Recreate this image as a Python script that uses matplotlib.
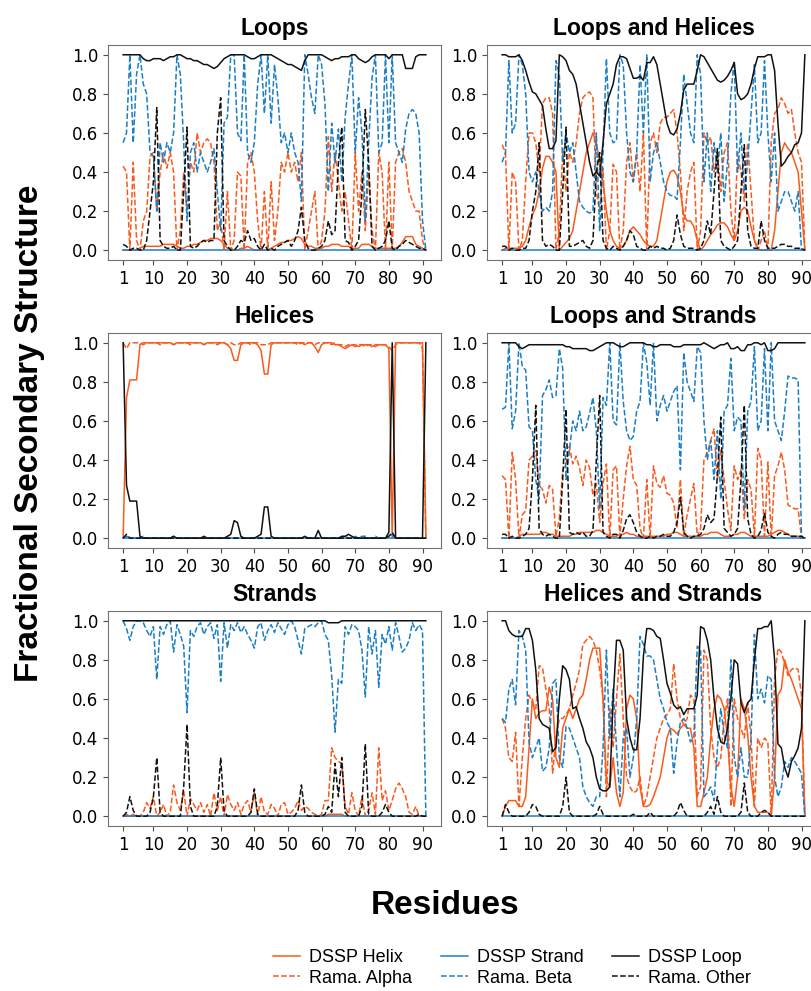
import matplotlib
matplotlib.use("Agg")
import matplotlib.pyplot as plt

# residue index 1..91
residues = list(range(1, 92))

ORANGE = '#fa5a1c'
BLUE = '#1b7fc6'
BLACK = '#111111'

# DSSP strand content is zero in every ensemble
dssp_strand = [
    0.00, 0.00, 0.00, 0.00, 0.00, 0.00, 0.00, 0.00, 0.00, 0.00,
    0.00, 0.00, 0.00, 0.00, 0.00, 0.00, 0.00, 0.00, 0.00, 0.00,
    0.00, 0.00, 0.00, 0.00, 0.00, 0.00, 0.00, 0.00, 0.00, 0.00,
    0.00, 0.00, 0.00, 0.00, 0.00, 0.00, 0.00, 0.00, 0.00, 0.00,
    0.00, 0.00, 0.00, 0.00, 0.00, 0.00, 0.00, 0.00, 0.00, 0.00,
    0.00, 0.00, 0.00, 0.00, 0.00, 0.00, 0.00, 0.00, 0.00, 0.00,
    0.00, 0.00, 0.00, 0.00, 0.00, 0.00, 0.00, 0.00, 0.00, 0.00,
    0.00, 0.00, 0.00, 0.00, 0.00, 0.00, 0.00, 0.00, 0.00, 0.00,
    0.00, 0.00, 0.00, 0.00, 0.00, 0.00, 0.00, 0.00, 0.00, 0.00,
    0.00]

# ---- Loops ----
loops_helix = [
    0.00, 0.00, 0.00, 0.00, 0.00, 0.01, 0.02, 0.02, 0.02, 0.02,
    0.02, 0.02, 0.03, 0.03, 0.03, 0.03, 0.02, 0.01, 0.01, 0.02,
    0.02, 0.03, 0.03, 0.04, 0.05, 0.05, 0.06, 0.06, 0.06, 0.05,
    0.03, 0.01, 0.01, 0.00, 0.00, 0.01, 0.01, 0.02, 0.01, 0.00,
    0.00, 0.00, 0.00, 0.00, 0.01, 0.02, 0.03, 0.04, 0.04, 0.05,
    0.05, 0.06, 0.07, 0.06, 0.03, 0.02, 0.02, 0.01, 0.01, 0.01,
    0.02, 0.02, 0.03, 0.03, 0.03, 0.02, 0.02, 0.02, 0.01, 0.01,
    0.01, 0.03, 0.03, 0.03, 0.02, 0.01, 0.01, 0.01, 0.01, 0.01,
    0.01, 0.01, 0.02, 0.04, 0.07, 0.07, 0.07, 0.03, 0.02, 0.01,
    0.00]
loops_loop = [
    1.00, 1.00, 1.00, 1.00, 1.00, 1.00, 0.98, 0.97, 0.97, 0.98,
    0.98, 0.98, 0.97, 0.98, 0.99, 0.99, 1.00, 1.00, 0.99, 0.98,
    0.98, 0.97, 0.97, 0.96, 0.95, 0.95, 0.94, 0.93, 0.94, 0.96,
    0.98, 0.99, 1.00, 1.00, 1.00, 1.00, 1.00, 0.99, 0.98, 0.98,
    0.99, 1.00, 1.00, 1.00, 1.00, 0.99, 0.98, 0.97, 0.96, 0.95,
    0.95, 0.94, 0.93, 0.92, 0.97, 1.00, 1.00, 1.00, 1.00, 1.00,
    0.99, 0.98, 0.97, 0.98, 0.98, 0.99, 0.99, 0.99, 1.00, 1.00,
    0.98, 0.97, 0.96, 0.97, 0.99, 1.00, 1.00, 1.00, 1.00, 0.98,
    1.00, 1.00, 1.00, 1.00, 0.93, 0.93, 0.93, 0.99, 1.00, 1.00,
    1.00]
loops_alpha = [
    0.43, 0.40, 0.00, 0.45, 0.05, 0.00, 0.15, 0.20, 0.48, 0.50,
    0.20, 0.40, 0.50, 0.42, 0.50, 0.40, 0.00, 0.10, 0.40, 0.20,
    0.45, 0.40, 0.60, 0.50, 0.55, 0.57, 0.55, 0.45, 0.10, 0.15,
    0.00, 0.30, 0.00, 0.05, 0.40, 0.38, 0.00, 0.45, 0.50, 0.40,
    0.15, 0.00, 0.30, 0.00, 0.35, 0.05, 0.20, 0.45, 0.40, 0.50,
    0.40, 0.45, 0.35, 0.50, 0.00, 0.10, 0.20, 0.30, 0.00, 0.05,
    0.20, 0.58, 0.30, 0.50, 0.35, 0.20, 0.30, 0.15, 0.00, 0.50,
    0.20, 0.40, 0.10, 0.40, 0.10, 0.00, 0.50, 0.40, 0.00, 0.45,
    0.00, 0.45, 0.50, 0.52, 0.45, 0.30, 0.25, 0.20, 0.20, 0.05,
    0.00]
loops_beta = [
    0.55, 0.60, 1.00, 0.55, 0.90, 1.00, 0.85, 0.80, 0.50, 0.48,
    0.20, 0.55, 0.45, 0.55, 0.50, 0.60, 1.00, 0.90, 0.55, 0.15,
    0.50, 0.55, 0.40, 0.50, 0.45, 0.40, 0.45, 0.52, 0.30, 0.10,
    0.65, 0.68, 1.00, 1.00, 0.60, 0.56, 1.00, 0.50, 0.45, 0.55,
    0.85, 1.00, 0.70, 1.00, 0.65, 0.95, 0.78, 0.55, 0.60, 0.50,
    0.60, 0.50, 0.45, 0.25, 1.00, 0.90, 0.78, 0.70, 1.00, 0.95,
    0.75, 0.30, 0.65, 0.45, 0.62, 0.35, 0.68, 0.85, 1.00, 0.50,
    0.78, 0.60, 0.15, 0.55, 0.88, 1.00, 0.50, 0.55, 1.00, 0.55,
    1.00, 0.55, 0.50, 0.45, 0.62, 0.70, 0.72, 0.70, 0.60, 0.15,
    0.00]
loops_other = [
    0.03, 0.02, 0.00, 0.01, 0.01, 0.00, 0.00, 0.05, 0.20, 0.35,
    0.73, 0.05, 0.02, 0.01, 0.01, 0.02, 0.00, 0.00, 0.30, 0.63,
    0.02, 0.01, 0.02, 0.04, 0.05, 0.04, 0.05, 0.05, 0.60, 0.78,
    0.05, 0.02, 0.00, 0.00, 0.02, 0.05, 0.04, 0.10, 0.05, 0.06,
    0.02, 0.00, 0.03, 0.00, 0.01, 0.00, 0.02, 0.03, 0.04, 0.05,
    0.02, 0.05, 0.10, 0.22, 0.05, 0.01, 0.00, 0.00, 0.01, 0.02,
    0.05, 0.15, 0.08, 0.10, 0.45, 0.63, 0.05, 0.04, 0.00, 0.02,
    0.05, 0.30, 0.72, 0.45, 0.02, 0.00, 0.01, 0.02, 0.05, 0.15,
    0.01, 0.00, 0.02, 0.03, 0.05, 0.04, 0.03, 0.02, 0.01, 0.01,
    0.00]

# ---- Loops and Helices ----
lh_helix = [
    0.00, 0.01, 0.01, 0.01, 0.01, 0.01, 0.02, 0.05, 0.12, 0.18,
    0.22, 0.30, 0.42, 0.48, 0.48, 0.45, 0.40, 0.00, 0.02, 0.04,
    0.06, 0.10, 0.20, 0.30, 0.40, 0.50, 0.55, 0.60, 0.55, 0.45,
    0.35, 0.20, 0.10, 0.05, 0.02, 0.01, 0.02, 0.05, 0.10, 0.12,
    0.10, 0.08, 0.05, 0.03, 0.02, 0.02, 0.05, 0.15, 0.25, 0.35,
    0.40, 0.41, 0.38, 0.30, 0.18, 0.15, 0.15, 0.12, 0.05, 0.00,
    0.02, 0.05, 0.08, 0.10, 0.13, 0.14, 0.14, 0.12, 0.08, 0.05,
    0.10, 0.20, 0.22, 0.20, 0.12, 0.05, 0.01, 0.00, 0.00, 0.00,
    0.00, 0.10, 0.30, 0.50, 0.55, 0.52, 0.50, 0.45, 0.40, 0.20,
    0.00]
lh_loop = [
    1.00, 1.00, 0.99, 0.99, 0.99, 1.00, 0.97, 0.92, 0.86, 0.81,
    0.80, 0.77, 0.74, 0.62, 0.52, 0.52, 0.56, 1.00, 0.99, 0.97,
    0.92, 0.90, 0.85, 0.75, 0.65, 0.55, 0.45, 0.38, 0.40, 0.38,
    0.55, 0.75, 0.80, 0.85, 0.95, 0.99, 0.99, 0.98, 0.93, 0.88,
    0.88, 0.89, 0.87, 0.96, 0.96, 0.99, 0.95, 0.85, 0.75, 0.65,
    0.60, 0.59, 0.62, 0.70, 0.82, 0.85, 0.85, 0.85, 0.92, 1.00,
    0.99, 0.96, 0.93, 0.90, 0.87, 0.86, 0.87, 0.89, 0.92, 0.96,
    0.80, 0.77, 0.78, 0.80, 0.85, 0.93, 0.99, 0.99, 0.99, 1.00,
    1.00, 0.92, 0.65, 0.43, 0.45, 0.48, 0.50, 0.54, 0.55, 0.60,
    1.00]
lh_alpha = [
    0.54, 0.50, 0.00, 0.40, 0.35, 0.00, 0.05, 0.35, 0.60, 0.60,
    0.55, 0.40, 0.75, 0.78, 0.78, 0.70, 0.00, 0.10, 0.50, 0.30,
    0.50, 0.45, 0.55, 0.70, 0.78, 0.80, 0.81, 0.78, 0.30, 0.20,
    0.42, 0.00, 0.10, 0.44, 0.40, 0.00, 0.10, 0.45, 0.55, 0.35,
    0.50, 0.30, 0.60, 0.00, 0.55, 0.60, 0.50, 0.65, 0.68, 0.68,
    0.70, 0.72, 0.60, 0.40, 0.10, 0.30, 0.40, 0.45, 0.00, 0.10,
    0.60, 0.55, 0.58, 0.40, 0.50, 0.30, 0.50, 0.55, 0.20, 0.05,
    0.50, 0.40, 0.25, 0.55, 0.30, 0.05, 0.00, 0.05, 0.10, 0.00,
    0.55, 0.70, 0.72, 0.78, 0.75, 0.70, 0.72, 0.60, 0.50, 0.45,
    0.00]
lh_beta = [
    0.45, 0.50, 0.97, 0.60, 0.65, 1.00, 0.95, 0.80, 0.40, 0.35,
    0.40, 0.30, 0.20, 0.22, 0.20, 0.30, 0.97, 0.90, 0.45, 0.60,
    0.50, 0.55, 0.40, 0.25, 0.22, 0.20, 0.19, 0.20, 0.60, 0.10,
    0.50, 0.98, 0.60, 0.55, 0.56, 1.00, 0.95, 0.60, 0.40, 0.35,
    0.50, 0.95, 0.60, 1.00, 0.35, 0.50, 0.55, 0.45, 0.35, 0.30,
    0.28, 0.28, 0.26, 0.55, 0.90, 0.75, 0.60, 0.55, 1.00, 0.90,
    0.35, 0.60, 0.30, 0.55, 0.40, 0.60, 0.25, 0.45, 0.80, 0.97,
    0.40, 0.60, 0.30, 0.45, 0.70, 0.95, 0.55, 0.60, 0.97, 0.60,
    0.35, 0.60, 0.20, 0.25, 0.30, 0.30, 0.25, 0.20, 0.30, 0.00,
    0.00]
lh_other = [
    0.02, 0.02, 0.00, 0.01, 0.00, 0.00, 0.01, 0.01, 0.05, 0.20,
    0.30, 0.55, 0.05, 0.02, 0.03, 0.02, 0.00, 0.00, 0.30, 0.63,
    0.02, 0.02, 0.03, 0.04, 0.05, 0.02, 0.01, 0.05, 0.40, 0.50,
    0.05, 0.01, 0.00, 0.02, 0.01, 0.00, 0.02, 0.05, 0.10, 0.08,
    0.02, 0.01, 0.00, 0.00, 0.02, 0.01, 0.02, 0.01, 0.01, 0.00,
    0.01, 0.05, 0.18, 0.08, 0.02, 0.01, 0.01, 0.01, 0.00, 0.01,
    0.05, 0.15, 0.08, 0.30, 0.52, 0.05, 0.02, 0.01, 0.00, 0.02,
    0.05, 0.30, 0.54, 0.10, 0.02, 0.01, 0.01, 0.15, 0.05, 0.01,
    0.01, 0.01, 0.02, 0.03, 0.03, 0.02, 0.02, 0.01, 0.01, 0.01,
    0.00]

# ---- Helices ----
hel_helix = [
    0.00, 0.72, 0.81, 0.81, 0.81, 0.99, 1.00, 1.00, 1.00, 1.00,
    1.00, 1.00, 1.00, 1.00, 1.00, 0.99, 1.00, 1.00, 1.00, 1.00,
    1.00, 1.00, 1.00, 1.00, 0.99, 1.00, 1.00, 1.00, 1.00, 1.00,
    1.00, 0.99, 0.97, 0.91, 0.91, 0.99, 1.00, 1.00, 1.00, 1.00,
    0.99, 0.96, 0.84, 0.84, 0.99, 1.00, 1.00, 1.00, 1.00, 1.00,
    1.00, 1.00, 1.00, 1.00, 0.99, 1.00, 1.00, 0.98, 0.95, 0.99,
    1.00, 1.00, 1.00, 0.99, 0.99, 0.98, 0.97, 0.98, 0.99, 0.99,
    0.98, 0.99, 0.99, 0.99, 0.98, 0.99, 0.99, 0.99, 0.99, 0.97,
    0.00, 1.00, 1.00, 1.00, 1.00, 1.00, 1.00, 1.00, 1.00, 1.00,
    0.00]
hel_loop = [
    1.00, 0.27, 0.19, 0.19, 0.19, 0.01, 0.00, 0.00, 0.00, 0.00,
    0.00, 0.00, 0.00, 0.00, 0.00, 0.01, 0.00, 0.00, 0.00, 0.00,
    0.00, 0.00, 0.00, 0.00, 0.01, 0.00, 0.00, 0.00, 0.00, 0.00,
    0.00, 0.01, 0.02, 0.09, 0.08, 0.01, 0.00, 0.00, 0.00, 0.00,
    0.01, 0.02, 0.16, 0.16, 0.01, 0.00, 0.00, 0.00, 0.00, 0.00,
    0.00, 0.00, 0.00, 0.00, 0.01, 0.00, 0.00, 0.00, 0.04, 0.00,
    0.00, 0.00, 0.00, 0.00, 0.00, 0.01, 0.01, 0.02, 0.01, 0.00,
    0.00, 0.00, 0.00, 0.00, 0.00, 0.00, 0.00, 0.00, 0.00, 0.03,
    1.00, 0.00, 0.00, 0.00, 0.00, 0.00, 0.00, 0.00, 0.00, 0.00,
    1.00]
hel_alpha = [
    1.00, 0.97, 1.00, 1.00, 1.00, 1.00, 0.99, 1.00, 1.00, 1.00,
    1.00, 0.99, 1.00, 1.00, 1.00, 0.99, 1.00, 1.00, 1.00, 1.00,
    0.99, 1.00, 1.00, 1.00, 0.99, 1.00, 1.00, 1.00, 0.99, 1.00,
    1.00, 0.99, 1.00, 0.99, 0.99, 1.00, 1.00, 1.00, 0.99, 1.00,
    1.00, 0.99, 0.99, 0.99, 1.00, 1.00, 1.00, 1.00, 1.00, 1.00,
    1.00, 1.00, 0.99, 1.00, 1.00, 1.00, 1.00, 0.99, 1.00, 1.00,
    1.00, 1.00, 0.99, 1.00, 0.99, 0.99, 0.98, 0.99, 0.99, 0.98,
    0.99, 0.99, 0.98, 0.99, 0.99, 0.98, 0.99, 0.99, 0.99, 0.98,
    0.96, 0.99, 1.00, 1.00, 1.00, 1.00, 1.00, 1.00, 1.00, 0.97,
    0.00]
hel_beta = [
    0.00, 0.01, 0.00, 0.00, 0.00, 0.00, 0.01, 0.00, 0.00, 0.00,
    0.00, 0.00, 0.00, 0.00, 0.00, 0.01, 0.00, 0.00, 0.00, 0.00,
    0.00, 0.00, 0.00, 0.00, 0.00, 0.00, 0.00, 0.00, 0.00, 0.00,
    0.00, 0.00, 0.00, 0.00, 0.00, 0.00, 0.00, 0.00, 0.00, 0.00,
    0.00, 0.00, 0.00, 0.00, 0.00, 0.00, 0.00, 0.00, 0.00, 0.00,
    0.00, 0.00, 0.00, 0.00, 0.00, 0.00, 0.00, 0.00, 0.00, 0.00,
    0.00, 0.00, 0.00, 0.00, 0.00, 0.00, 0.01, 0.00, 0.00, 0.01,
    0.00, 0.01, 0.01, 0.00, 0.00, 0.01, 0.00, 0.00, 0.00, 0.01,
    0.02, 0.00, 0.00, 0.00, 0.00, 0.00, 0.00, 0.00, 0.00, 0.00,
    0.00]
hel_other = [
    0.00, 0.02, 0.00, 0.00, 0.00, 0.00, 0.00, 0.00, 0.00, 0.00,
    0.00, 0.00, 0.00, 0.00, 0.00, 0.00, 0.00, 0.00, 0.00, 0.00,
    0.00, 0.00, 0.00, 0.00, 0.00, 0.00, 0.00, 0.00, 0.00, 0.00,
    0.00, 0.00, 0.00, 0.00, 0.00, 0.00, 0.00, 0.00, 0.00, 0.00,
    0.00, 0.00, 0.00, 0.00, 0.00, 0.00, 0.00, 0.00, 0.00, 0.00,
    0.00, 0.00, 0.00, 0.00, 0.00, 0.00, 0.00, 0.00, 0.00, 0.00,
    0.00, 0.00, 0.00, 0.00, 0.00, 0.00, 0.00, 0.00, 0.00, 0.00,
    0.00, 0.00, 0.00, 0.00, 0.00, 0.00, 0.00, 0.00, 0.00, 0.01,
    0.03, 0.00, 0.00, 0.00, 0.00, 0.00, 0.00, 0.00, 0.00, 0.00,
    0.00]

# ---- Loops and Strands ----
ls_helix = [
    0.00, 0.00, 0.00, 0.00, 0.00, 0.01, 0.02, 0.02, 0.02, 0.02,
    0.02, 0.02, 0.03, 0.03, 0.02, 0.02, 0.01, 0.01, 0.01, 0.01,
    0.01, 0.02, 0.02, 0.03, 0.03, 0.03, 0.03, 0.03, 0.04, 0.04,
    0.03, 0.02, 0.01, 0.01, 0.01, 0.02, 0.02, 0.03, 0.02, 0.02,
    0.01, 0.01, 0.01, 0.01, 0.01, 0.01, 0.01, 0.01, 0.01, 0.02,
    0.02, 0.03, 0.03, 0.02, 0.01, 0.01, 0.01, 0.01, 0.01, 0.01,
    0.02, 0.02, 0.03, 0.03, 0.03, 0.02, 0.01, 0.01, 0.01, 0.02,
    0.02, 0.03, 0.03, 0.02, 0.01, 0.01, 0.01, 0.01, 0.01, 0.01,
    0.02, 0.03, 0.04, 0.04, 0.03, 0.02, 0.01, 0.01, 0.01, 0.00,
    0.00]
ls_loop = [
    1.00, 1.00, 1.00, 1.00, 1.00, 0.98, 0.97, 0.98, 0.99, 0.99,
    0.99, 0.99, 0.99, 0.99, 0.99, 0.99, 0.99, 0.99, 0.99, 0.98,
    0.98, 0.97, 0.97, 0.97, 0.97, 0.97, 0.96, 0.96, 0.97, 0.98,
    0.99, 1.00, 1.00, 1.00, 0.99, 0.98, 0.98, 0.99, 1.00, 1.00,
    1.00, 1.00, 1.00, 0.99, 0.99, 0.98, 0.98, 0.99, 0.99, 0.99,
    0.99, 0.98, 0.98, 0.98, 0.99, 0.99, 0.99, 0.99, 0.99, 0.99,
    1.00, 0.99, 0.98, 0.97, 0.98, 0.99, 0.99, 1.00, 0.97, 0.97,
    0.98, 0.96, 0.96, 0.99, 0.99, 1.00, 1.00, 0.99, 1.00, 0.96,
    0.96, 0.97, 1.00, 1.00, 1.00, 1.00, 1.00, 1.00, 1.00, 1.00,
    1.00]
ls_alpha = [
    0.32, 0.30, 0.00, 0.44, 0.30, 0.00, 0.12, 0.14, 0.40, 0.42,
    0.45, 0.27, 0.25, 0.18, 0.27, 0.25, 0.01, 0.10, 0.35, 0.38,
    0.47, 0.38, 0.42, 0.36, 0.27, 0.40, 0.36, 0.22, 0.28, 0.08,
    0.28, 0.38, 0.00, 0.35, 0.37, 0.01, 0.20, 0.37, 0.47, 0.30,
    0.27, 0.05, 0.00, 0.30, 0.00, 0.37, 0.28, 0.26, 0.32, 0.23,
    0.22, 0.18, 0.05, 0.30, 0.01, 0.12, 0.20, 0.28, 0.01, 0.05,
    0.40, 0.44, 0.50, 0.56, 0.30, 0.45, 0.30, 0.15, 0.04, 0.37,
    0.30, 0.35, 0.10, 0.30, 0.25, 0.01, 0.46, 0.40, 0.01, 0.39,
    0.00, 0.32, 0.37, 0.44, 0.35, 0.17, 0.16, 0.15, 0.15, 0.00,
    0.00]
ls_beta = [
    0.66, 0.67, 1.00, 0.56, 0.65, 1.00, 0.88, 0.86, 0.57, 0.55,
    0.30, 0.20, 0.73, 0.76, 0.81, 0.72, 0.73, 0.97, 0.87, 0.30,
    0.45, 0.60, 0.55, 0.65, 0.55, 0.57, 0.64, 0.72, 0.55, 0.15,
    0.72, 0.68, 1.00, 0.60, 0.58, 1.00, 0.70, 0.55, 0.50, 0.52,
    0.65, 0.70, 1.00, 0.90, 0.68, 1.00, 0.60, 0.68, 0.73, 0.65,
    0.70, 0.75, 0.78, 0.35, 0.95, 0.80, 0.75, 0.70, 0.98, 0.95,
    0.60, 0.40, 0.50, 0.30, 0.55, 0.20, 0.65, 0.68, 0.92, 0.55,
    0.62, 0.60, 0.15, 0.65, 0.70, 0.98, 0.55, 0.60, 0.97, 0.55,
    1.00, 0.60, 0.55, 0.50, 0.65, 0.83, 0.82, 0.82, 0.81, 0.00,
    0.00]
ls_other = [
    0.02, 0.02, 0.00, 0.01, 0.00, 0.00, 0.01, 0.02, 0.05, 0.30,
    0.68, 0.05, 0.02, 0.01, 0.02, 0.01, 0.00, 0.00, 0.30, 0.66,
    0.03, 0.02, 0.03, 0.02, 0.03, 0.01, 0.01, 0.04, 0.40, 0.73,
    0.03, 0.01, 0.00, 0.02, 0.02, 0.00, 0.04, 0.10, 0.12, 0.08,
    0.03, 0.01, 0.00, 0.00, 0.01, 0.00, 0.01, 0.01, 0.02, 0.01,
    0.01, 0.03, 0.08, 0.21, 0.03, 0.01, 0.00, 0.01, 0.01, 0.02,
    0.05, 0.12, 0.08, 0.10, 0.32, 0.62, 0.05, 0.03, 0.01, 0.02,
    0.05, 0.30, 0.68, 0.10, 0.02, 0.00, 0.01, 0.04, 0.13, 0.03,
    0.01, 0.00, 0.02, 0.03, 0.02, 0.02, 0.01, 0.01, 0.01, 0.01,
    0.00]

# ---- Strands ----
st_helix = [
    0.00, 0.00, 0.00, 0.00, 0.00, 0.00, 0.00, 0.00, 0.00, 0.00,
    0.00, 0.00, 0.00, 0.00, 0.00, 0.00, 0.00, 0.00, 0.00, 0.00,
    0.00, 0.00, 0.00, 0.00, 0.00, 0.00, 0.00, 0.00, 0.00, 0.00,
    0.00, 0.00, 0.00, 0.00, 0.00, 0.00, 0.00, 0.00, 0.00, 0.00,
    0.00, 0.00, 0.00, 0.00, 0.00, 0.00, 0.00, 0.00, 0.00, 0.00,
    0.00, 0.00, 0.00, 0.00, 0.00, 0.00, 0.00, 0.00, 0.00, 0.00,
    0.00, 0.01, 0.01, 0.01, 0.01, 0.01, 0.00, 0.00, 0.00, 0.00,
    0.00, 0.00, 0.00, 0.00, 0.00, 0.00, 0.00, 0.00, 0.00, 0.00,
    0.00, 0.00, 0.00, 0.00, 0.00, 0.00, 0.00, 0.00, 0.00, 0.00,
    0.00]
st_loop = [
    1.00, 1.00, 1.00, 1.00, 1.00, 1.00, 1.00, 1.00, 1.00, 1.00,
    1.00, 1.00, 1.00, 1.00, 1.00, 1.00, 1.00, 1.00, 1.00, 1.00,
    1.00, 1.00, 1.00, 1.00, 1.00, 1.00, 1.00, 1.00, 1.00, 1.00,
    1.00, 1.00, 1.00, 1.00, 1.00, 1.00, 1.00, 1.00, 1.00, 1.00,
    1.00, 1.00, 1.00, 1.00, 1.00, 1.00, 1.00, 1.00, 1.00, 1.00,
    1.00, 1.00, 1.00, 1.00, 1.00, 1.00, 1.00, 1.00, 1.00, 1.00,
    1.00, 0.99, 0.99, 0.99, 0.99, 1.00, 1.00, 1.00, 1.00, 1.00,
    1.00, 1.00, 1.00, 1.00, 1.00, 1.00, 1.00, 1.00, 1.00, 1.00,
    1.00, 1.00, 1.00, 1.00, 1.00, 1.00, 1.00, 1.00, 1.00, 1.00,
    1.00]
st_alpha = [
    0.00, 0.01, 0.00, 0.01, 0.00, 0.00, 0.02, 0.07, 0.04, 0.10,
    0.00, 0.02, 0.06, 0.00, 0.02, 0.16, 0.07, 0.03, 0.13, 0.00,
    0.09, 0.06, 0.03, 0.07, 0.02, 0.06, 0.00, 0.12, 0.03, 0.10,
    0.00, 0.11, 0.06, 0.03, 0.07, 0.01, 0.06, 0.08, 0.02, 0.12,
    0.00, 0.10, 0.02, 0.01, 0.06, 0.04, 0.00, 0.06, 0.07, 0.01,
    0.02, 0.04, 0.08, 0.03, 0.05, 0.04, 0.02, 0.01, 0.00, 0.01,
    0.08, 0.08, 0.35, 0.30, 0.28, 0.27, 0.05, 0.01, 0.12, 0.03,
    0.00, 0.10, 0.00, 0.03, 0.12, 0.01, 0.35, 0.08, 0.13, 0.03,
    0.08, 0.14, 0.17, 0.14, 0.10, 0.02, 0.01, 0.05, 0.00, 0.00,
    0.00]
st_beta = [
    1.00, 0.96, 0.90, 0.97, 1.00, 1.00, 0.99, 0.95, 0.92, 0.97,
    0.70, 0.97, 0.93, 0.98, 1.00, 0.84, 0.98, 0.93, 0.87, 0.53,
    0.95, 0.92, 0.97, 0.99, 0.93, 0.97, 0.99, 0.91, 0.98, 0.69,
    0.99, 0.86, 0.98, 0.95, 0.99, 0.94, 0.97, 0.93, 0.90, 0.86,
    0.97, 0.99, 0.90, 0.95, 0.98, 0.94, 0.99, 0.96, 0.93, 0.98,
    1.00, 0.97, 0.90, 0.83, 0.96, 0.97, 0.98, 0.97, 0.99, 1.00,
    0.93, 0.90, 0.72, 0.43, 0.70, 0.68, 0.97, 0.93, 0.98, 0.97,
    0.95, 0.85, 0.61, 0.97, 0.83, 0.95, 0.66, 0.93, 0.88, 0.97,
    0.85, 0.99, 0.92, 0.84, 0.86, 0.90, 0.99, 0.95, 0.98, 0.95,
    0.00]
st_other = [
    0.00, 0.02, 0.10, 0.03, 0.00, 0.00, 0.00, 0.00, 0.02, 0.10,
    0.30, 0.02, 0.00, 0.00, 0.00, 0.00, 0.00, 0.00, 0.15, 0.47,
    0.05, 0.00, 0.00, 0.00, 0.00, 0.00, 0.00, 0.00, 0.05, 0.30,
    0.03, 0.00, 0.00, 0.00, 0.00, 0.00, 0.00, 0.00, 0.02, 0.14,
    0.01, 0.00, 0.00, 0.00, 0.00, 0.00, 0.00, 0.00, 0.00, 0.00,
    0.00, 0.00, 0.03, 0.16, 0.02, 0.00, 0.00, 0.00, 0.00, 0.00,
    0.01, 0.05, 0.02, 0.27, 0.10, 0.30, 0.02, 0.00, 0.00, 0.00,
    0.00, 0.05, 0.37, 0.01, 0.00, 0.00, 0.00, 0.02, 0.06, 0.02,
    0.00, 0.00, 0.00, 0.00, 0.00, 0.00, 0.00, 0.00, 0.01, 0.00,
    0.00]

# ---- Helices and Strands ----
hs_helix = [
    0.00, 0.05, 0.08, 0.08, 0.08, 0.05, 0.05, 0.10, 0.35, 0.60,
    0.50, 0.53, 0.54, 0.54, 0.66, 0.60, 0.30, 0.25, 0.45, 0.50,
    0.55, 0.50, 0.55, 0.60, 0.62, 0.70, 0.80, 0.86, 0.86, 0.86,
    0.60, 0.18, 0.15, 0.30, 0.12, 0.05, 0.12, 0.55, 0.62, 0.60,
    0.50, 0.15, 0.05, 0.05, 0.06, 0.10, 0.15, 0.20, 0.30, 0.40,
    0.45, 0.44, 0.42, 0.45, 0.47, 0.45, 0.45, 0.35, 0.05, 0.05,
    0.12, 0.20, 0.40, 0.55, 0.62, 0.60, 0.55, 0.40, 0.15, 0.05,
    0.20, 0.60, 0.55, 0.42, 0.20, 0.05, 0.02, 0.02, 0.02, 0.02,
    0.00, 0.20, 0.62, 0.65, 0.80, 0.74, 0.70, 0.65, 0.60, 0.55,
    0.00]
hs_loop = [
    1.00, 1.00, 0.95, 0.93, 0.92, 0.92, 0.92, 0.96, 0.96, 0.90,
    0.75, 0.50, 0.47, 0.46, 0.45, 0.33, 0.35, 0.60, 0.77, 0.75,
    0.70, 0.55, 0.56, 0.50, 0.45, 0.38, 0.35, 0.30, 0.20, 0.14,
    0.13, 0.13, 0.15, 0.60, 0.90, 0.90, 0.85, 0.50, 0.40, 0.34,
    0.34, 0.50, 0.82, 0.96, 0.96, 0.95, 0.92, 0.91, 0.80, 0.68,
    0.63, 0.57, 0.55, 0.56, 0.52, 0.55, 0.55, 0.55, 0.62, 0.97,
    0.96, 0.90, 0.80, 0.60, 0.45, 0.38, 0.37, 0.45, 0.60, 0.80,
    0.78, 0.58, 0.53, 0.58, 0.60, 0.80, 0.96, 0.96, 0.97, 0.97,
    1.00, 0.80, 0.37, 0.35, 0.25, 0.20, 0.28, 0.31, 0.35, 0.45,
    1.00]
hs_alpha = [
    0.50, 0.45, 0.30, 0.28, 0.43, 0.05, 0.30, 0.50, 0.62, 0.58,
    0.55, 0.77, 0.76, 0.65, 0.55, 0.22, 0.40, 0.50, 0.50, 0.52,
    0.55, 0.62, 0.68, 0.75, 0.88, 0.90, 0.92, 0.90, 0.85, 0.75,
    0.60, 0.10, 0.55, 0.35, 0.60, 0.83, 0.50, 0.20, 0.15, 0.12,
    0.13, 0.20, 0.05, 0.10, 0.20, 0.30, 0.40, 0.45, 0.50, 0.52,
    0.55, 0.78, 0.60, 0.50, 0.47, 0.50, 0.62, 0.60, 0.10, 0.15,
    0.85, 0.80, 0.45, 0.30, 0.25, 0.30, 0.50, 0.60, 0.05, 0.60,
    0.50, 0.45, 0.40, 0.58, 0.40, 0.05, 0.40, 0.35, 0.40, 0.38,
    0.00, 0.70, 0.86, 0.84, 0.78, 0.72, 0.75, 0.76, 0.75, 0.62,
    0.00]
hs_beta = [
    0.50, 0.48, 0.65, 0.70, 0.57, 0.95, 0.92, 0.85, 0.38, 0.30,
    0.35, 0.40, 0.23, 0.25, 0.35, 0.68, 0.70, 0.30, 0.25, 0.46,
    0.45, 0.40, 0.35, 0.30, 0.15, 0.10, 0.07, 0.05, 0.10, 0.10,
    0.35, 0.85, 0.40, 0.65, 0.35, 0.10, 0.40, 0.45, 0.20, 0.30,
    0.50, 0.92, 0.88, 0.82, 0.82, 0.80, 0.70, 0.60, 0.55, 0.48,
    0.45, 0.22, 0.38, 0.48, 0.50, 0.45, 0.38, 0.40, 0.87, 0.85,
    0.10, 0.12, 0.15, 0.08, 0.35, 0.55, 0.42, 0.35, 0.80, 0.30,
    0.20, 0.35, 0.20, 0.20, 0.40, 0.93, 0.60, 0.65, 0.58, 0.72,
    0.70, 0.20, 0.10, 0.15, 0.28, 0.25, 0.30, 0.28, 0.25, 0.22,
    0.00]
hs_other = [
    0.00, 0.06, 0.02, 0.00, 0.00, 0.00, 0.00, 0.00, 0.02, 0.06,
    0.05, 0.01, 0.00, 0.00, 0.00, 0.00, 0.00, 0.00, 0.05, 0.20,
    0.02, 0.00, 0.00, 0.00, 0.00, 0.00, 0.00, 0.00, 0.01, 0.05,
    0.01, 0.00, 0.00, 0.00, 0.00, 0.00, 0.00, 0.00, 0.00, 0.01,
    0.00, 0.00, 0.00, 0.00, 0.02, 0.00, 0.00, 0.00, 0.00, 0.00,
    0.00, 0.00, 0.02, 0.07, 0.03, 0.00, 0.00, 0.00, 0.00, 0.00,
    0.00, 0.02, 0.05, 0.01, 0.10, 0.02, 0.00, 0.00, 0.00, 0.00,
    0.00, 0.02, 0.17, 0.02, 0.00, 0.00, 0.00, 0.02, 0.03, 0.02,
    0.00, 0.00, 0.00, 0.00, 0.00, 0.00, 0.00, 0.00, 0.00, 0.00,
    0.00]

panel_titles = ['Loops', 'Loops and Helices', 'Helices',
                'Loops and Strands', 'Strands', 'Helices and Strands']
panel_series = [
    (loops_helix, loops_alpha, loops_loop, loops_beta, loops_other),
    (lh_helix, lh_alpha, lh_loop, lh_beta, lh_other),
    (hel_helix, hel_alpha, hel_loop, hel_beta, hel_other),
    (ls_helix, ls_alpha, ls_loop, ls_beta, ls_other),
    (st_helix, st_alpha, st_loop, st_beta, st_other),
    (hs_helix, hs_alpha, hs_loop, hs_beta, hs_other),
]
xtick_values = [1, 10, 20, 30, 40, 50, 60, 70, 80, 90]

BOLD_FONT = 'Liberation Sans'
LW = 1.1


def draw_panel(ax, title, helix, alpha, loop, beta, other):
    """Six secondary-structure traces for one ensemble"""
    ax.plot(residues, helix, color=ORANGE, lw=LW, label='DSSP Helix')
    ax.plot(residues, alpha, color=ORANGE, lw=LW, ls='--', label='Rama. Alpha')
    ax.plot(residues, dssp_strand, color=BLUE, lw=LW, label='DSSP Strand')
    ax.plot(residues, beta, color=BLUE, lw=LW, ls='--', label='Rama. Beta')
    ax.plot(residues, loop, color=BLACK, lw=LW, label='DSSP Loop')
    ax.plot(residues, other, color=BLACK, lw=LW, ls='--', label='Rama. Other')

    ax.set_title(title, fontsize=16.5, fontweight='bold', family=BOLD_FONT, pad=7)
    ax.set_xticks(xtick_values)
    ax.set_yticks([0.0, 0.2, 0.4, 0.6, 0.8, 1.0])
    ax.tick_params(labelsize=12, color='0.3')
    for spine in ax.spines.values():
        spine.set_color('0.45')


fig = plt.figure(figsize=(8.11, 9.91), dpi=100)

col_left = [108 / 811, 487 / 811]
width = 333 / 811
height = 215 / 991
row_bottom = [1 - 260 / 991, 1 - 548 / 991, 1 - 826 / 991]

axes = []
for i, title in enumerate(panel_titles):
    col = i % 2
    row = i // 2
    ax = fig.add_axes([col_left[col], row_bottom[row], width, height])
    draw_panel(ax, title, *panel_series[i])
    axes.append(ax)

fig.text(30 / 811, 1 - 433 / 991, 'Fractional Secondary Structure',
         rotation=90, ha='center', va='center', fontsize=24,
         fontweight='bold', family=BOLD_FONT)
fig.text(445 / 811, 1 - 905 / 991, 'Residues', ha='center', va='center',
         fontsize=24, fontweight='bold', family=BOLD_FONT)

handles, labels = axes[0].get_legend_handles_labels()
fig.legend(handles, labels, ncol=3, loc='center',
           bbox_to_anchor=(512 / 811, 1 - 968 / 991), frameon=False,
           prop={'family': BOLD_FONT, 'size': 13}, handlelength=1.5,
           handletextpad=0.5, columnspacing=1.6, labelspacing=0.2)

fig.savefig('out.png', dpi=100)
